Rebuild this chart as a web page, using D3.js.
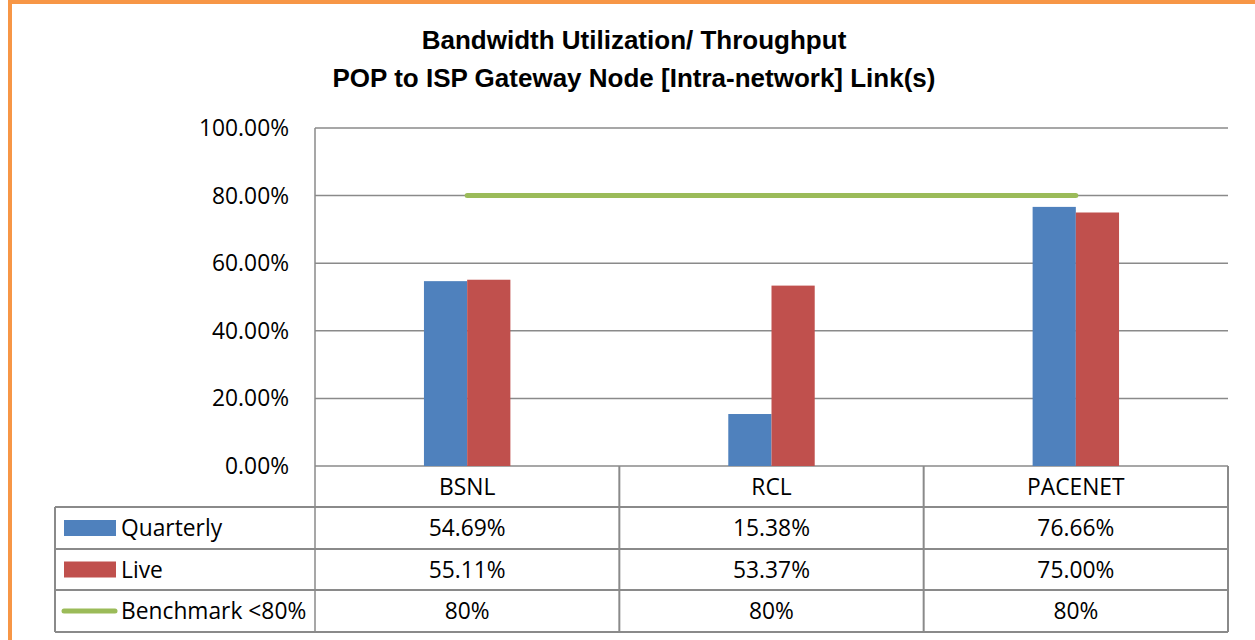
<!DOCTYPE html>
<html>
<head>
<meta charset="utf-8">
<script src="https://cdn.jsdelivr.net/npm/d3@7"></script>
<style>
  body { margin: 0; background: #fff; }
  text { font-family: "Open Sans", sans-serif; }
</style>
</head>
<body>
<svg id="chart" width="1255" height="640"></svg>
<script>
var categories = ["BSNL", "RCL", "PACENET"];
var seriesNames = ["Quarterly", "Live"];
var quarterly = [0.5469, 0.1538, 0.7666];
var live = [0.5511, 0.5337, 0.7500];
var benchmark = [0.80, 0.80, 0.80];
var quarterlyLabels = ["54.69%", "15.38%", "76.66%"];
var liveLabels = ["55.11%", "53.37%", "75.00%"];
var benchmarkLabels = ["80%", "80%", "80%"];
var legendNames = ["Quarterly", "Live", "Benchmark <80%"];
var yTicks = [0, 0.2, 0.4, 0.6, 0.8, 1.0];
var titleLines = ["Bandwidth Utilization/ Throughput", "POP to ISP Gateway Node [Intra-network] Link(s)"];

var colors = { Quarterly: "#4F81BD", Live: "#C0504D", bench: "#9BBB59" };
var gridColor = "#8a8a8a";

var svg = d3.select("#chart");

// orange frame
svg.append("rect")
    .attr("x", 10).attr("y", 2)
    .attr("width", 1400).attr("height", 800)
    .attr("fill", "none")
    .attr("stroke", "#F79646")
    .attr("stroke-width", 4);

function label(g, x, y, str, anchor, size, sx) {
  return g.append("text")
      .attr("transform", "translate(" + x + "," + y + ") scale(" + (sx || 1) + ",1)")
      .attr("text-anchor", anchor)
      .attr("font-size", size)
      .attr("fill", "#000")
      .text(str);
}

// title
var tg = svg.append("g");
titleLines.forEach(function(t, i) {
  label(tg, 634, 49 + i * 38, t, "middle", 26)
    .attr("font-weight", "bold")
    .style("font-family", "'Liberation Sans', Arial, sans-serif");
});

var plotL = 315, plotR = 1228, plotT = 128, plotB = 466;

var x0 = d3.scaleBand().domain(categories).range([plotL, plotR]).padding(0);
var groupW = x0.bandwidth() * 0.284;
var x1 = d3.scaleBand().domain(seriesNames).range([0, groupW]).padding(0);
var y = d3.scaleLinear().domain([0, 1]).range([plotB, plotT]);

// gridlines
svg.append("g").selectAll("line").data(yTicks).enter().append("line")
    .attr("x1", plotL).attr("x2", plotR)
    .attr("y1", function(d) { return y(d); })
    .attr("y2", function(d) { return y(d); })
    .attr("stroke", gridColor)
    .attr("stroke-width", 1.5);

// y tick labels
var yg = svg.append("g");
yTicks.forEach(function(d) {
  label(yg, 289, y(d) + 8, d3.format(".2%")(d), "end", 24, 0.95);
});

// bars
var rows = categories.map(function(c, i) {
  return { cat: c, Quarterly: quarterly[i], Live: live[i] };
});
svg.append("g").selectAll("g").data(rows).enter().append("g")
    .attr("transform", function(d) { return "translate(" + (x0(d.cat) + (x0.bandwidth() - groupW) / 2) + ",0)"; })
  .selectAll("rect")
  .data(function(d) { return seriesNames.map(function(s) { return { key: s, value: d[s] }; }); })
  .enter().append("rect")
    .attr("x", function(d) { return x1(d.key); })
    .attr("width", x1.bandwidth())
    .attr("y", function(d) { return y(d.value); })
    .attr("height", function(d) { return plotB - y(d.value); })
    .attr("fill", function(d) { return colors[d.key]; });

// benchmark line
var benchLine = d3.line()
    .x(function(d, i) { return x0(categories[i]) + x0.bandwidth() / 2; })
    .y(function(d) { return y(d); });
svg.append("path")
    .datum(benchmark)
    .attr("fill", "none")
    .attr("stroke", colors.bench)
    .attr("stroke-width", 5)
    .attr("stroke-linecap", "round")
    .attr("d", benchLine);

// axis line
svg.append("line")
    .attr("x1", plotL).attr("x2", plotL)
    .attr("y1", plotT).attr("y2", 632)
    .attr("stroke", gridColor).attr("stroke-width", 1.5);

// data table
var rowY = [466, 507, 549, 590, 632];
var tableLeft = 55;
var tb = svg.append("g");
rowY.slice(1).forEach(function(yy) {
  tb.append("line").attr("x1", tableLeft).attr("x2", plotR)
    .attr("y1", yy).attr("y2", yy)
    .attr("stroke", gridColor).attr("stroke-width", 2);
});
tb.append("line").attr("x1", tableLeft).attr("x2", tableLeft)
  .attr("y1", rowY[1]).attr("y2", rowY[4])
  .attr("stroke", gridColor).attr("stroke-width", 2);
categories.forEach(function(c) {
  var xx = x0(c) + x0.bandwidth();
  tb.append("line").attr("x1", xx).attr("x2", xx)
    .attr("y1", rowY[0]).attr("y2", rowY[4])
    .attr("stroke", gridColor).attr("stroke-width", 2);
});

// header + values
var tableRows = [categories, quarterlyLabels, liveLabels, benchmarkLabels];
tableRows.forEach(function(r, ri) {
  var cy = (rowY[ri] + rowY[ri + 1]) / 2;
  r.forEach(function(v, ci) {
    label(tb, x0(categories[ci]) + x0.bandwidth() / 2, cy + 8, v, "middle", 24, 0.95);
  });
});

// legend keys
legendNames.forEach(function(n, i) {
  var cy = (rowY[i + 1] + rowY[i + 2]) / 2;
  if (i < 2) {
    tb.append("rect").attr("x", 64).attr("y", cy - 8)
      .attr("width", 52).attr("height", 16)
      .attr("fill", colors[n]);
  } else {
    tb.append("line").attr("x1", 64).attr("x2", 115)
      .attr("y1", cy).attr("y2", cy)
      .attr("stroke", colors.bench).attr("stroke-width", 5)
      .attr("stroke-linecap", "round");
  }
  label(tb, 121, cy + 8, n, "start", 24, 0.95);
});
</script>
</body>
</html>
